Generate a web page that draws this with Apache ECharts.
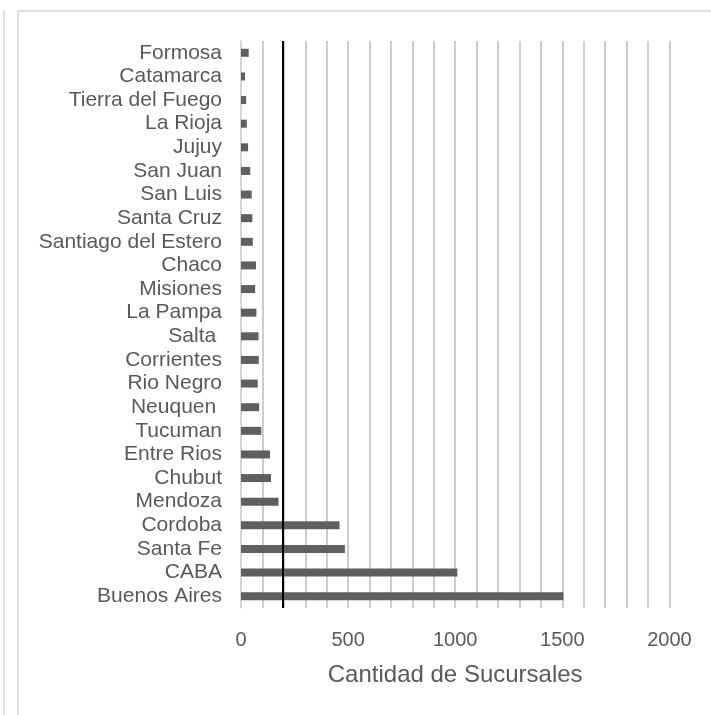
<!DOCTYPE html>
<html>
<head>
<meta charset="utf-8">
<script src="https://cdn.jsdelivr.net/npm/echarts@6/dist/echarts.min.js"></script>
<style>
html,body{margin:0;padding:0;background:#fff;}
#c{width:711px;height:715px;}
</style>
</head>
<body>
<div id="c"></div>
<script>
// Categories, bottom to top
const provincias = ["Buenos Aires","CABA","Santa Fe","Cordoba","Mendoza","Chubut","Entre Rios","Tucuman","Neuquen ","Rio Negro","Corrientes","Salta ","La Pampa","Misiones","Chaco","Santiago del Estero","Santa Cruz","San Luis","San Juan","Jujuy","La Rioja","Tierra del Fuego","Catamarca","Formosa"];
const sucursales = [1505,1010,485,460,175,140,135,95,85,78,83,82,72,66,70,55,53,50,43,33,27,24,19,36];
const lineaReferencia = 193;
const ejeMin = 0, ejeMax = 2000, ejePaso = 100, etiquetaPaso = 500;
const tituloEje = "Cantidad de Sucursales";

const chart = echarts.init(document.getElementById('c'), null, {renderer:'canvas'});
const FONT = '"Liberation Sans", Arial, sans-serif';
chart.setOption({
  animation:false,
  backgroundColor:'#fff',
  textStyle:{fontFamily:FONT},
  graphic:[
    {type:'line', shape:{x1:4,y1:11,x2:4,y2:715}, style:{stroke:'#d9d9d9', lineWidth:1.5}},
    {type:'rect', shape:{x:18,y:11,width:720,height:720}, style:{fill:null, stroke:'#d9d9d9', lineWidth:1.5}}
  ],
  grid:{left:241, right:41.6, top:41, bottom:107, containLabel:false},
  xAxis:{
    type:'value', min:ejeMin, max:ejeMax, interval:ejePaso,
    axisLine:{show:false}, axisTick:{show:false},
    splitLine:{show:true, lineStyle:{color:'#bdbdbd', width:1.5}},
    axisLabel:{
      margin:22, fontSize:20, color:'#595959', fontFamily:FONT,
      formatter:v => (v % etiquetaPaso === 0 ? String(v) : '')
    },
    name:tituloEje, nameLocation:'middle', nameGap:55,
    nameTextStyle:{fontSize:24, color:'#595959', fontFamily:FONT}
  },
  yAxis:{
    type:'category', data:provincias,
    axisLine:{show:true, lineStyle:{color:'#d9d9d9', width:1.5}},
    axisTick:{show:false},
    axisLabel:{margin:19, fontSize:21, color:'#595959', fontFamily:FONT, interval:0},
    splitLine:{show:false}
  },
  series:[{
    type:'bar', data:sucursales, barWidth:8,
    itemStyle:{color:'#5f5f5f'},
    markLine:{
      silent:true, symbol:['none','none'],
      label:{show:false},
      lineStyle:{color:'#000', width:2, type:'solid'},
      data:[{xAxis:lineaReferencia}]
    }
  }]
});
</script>
</body>
</html>
